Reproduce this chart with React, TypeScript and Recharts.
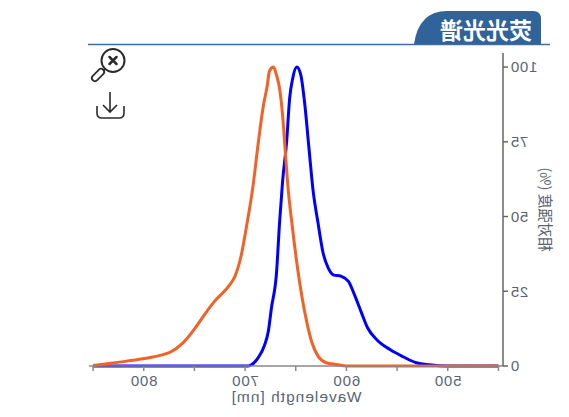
import { Line, LineChart, XAxis, YAxis } from 'recharts'

const blueWavelengths = [450, 500, 518, 531, 544, 557, 570, 579, 585, 592, 598, 605, 613, 618, 623, 628, 633, 637, 641, 645, 649, 653, 656, 659, 663, 666, 669, 674, 677, 681, 687, 693, 697, 850]
const blueValues = [0, 0, 0.4, 1.1, 3.1, 5.5, 8.8, 12.7, 17.7, 23.8, 28.3, 30, 30.5, 32.8, 37.8, 47.8, 59, 73, 87.3, 97.3, 100, 96.2, 89.6, 75, 61.7, 47.8, 31.1, 19.4, 11.7, 6.8, 2.8, 0.6, 0, 0]

const orangeWavelengths = [450, 600, 610, 620, 628, 634, 639, 644, 648, 653, 658, 661, 663, 666, 669, 672, 676, 678, 682, 687, 692, 698, 704, 710, 715, 730, 740, 748, 761, 774, 781, 801, 824, 850]
const orangeValues = [0, 0, 0.5, 1.1, 3.3, 7.8, 14.5, 23.4, 32.2, 45.5, 61.2, 75, 84, 92.9, 97.3, 100, 98.6, 94, 87, 74.6, 60.6, 47.8, 36.7, 30, 27.2, 21.7, 17.2, 13.3, 7.8, 4.6, 3.8, 2.4, 1.3, 0.2]

const xTicks = [450, 500, 550, 600, 650, 700, 750, 800, 850]
const xLabelled = [500, 600, 700, 800]
const yTicks = [0, 25, 50, 75, 100]

const blueData = blueWavelengths.map((wavelength, i) => ({ wavelength, value: blueValues[i] }))
const orangeData = orangeWavelengths.map((wavelength, i) => ({ wavelength, value: orangeValues[i] }))

const textColor = '#5c6470'
const font = '"Liberation Sans", Arial, sans-serif'

function Header() {
  return (
    <svg width={569} height={417} style={{ position: 'absolute', left: 0, top: 0 }}>
      <line x1={19} x2={481} y1={44.5} y2={44.5} stroke="#3f6f9f" strokeWidth={1.5} />
      <path d="M28 44 V19 Q28 11 36 11 H122 Q150 11 155 44 Z" fill="#2f6399" />
      <text
        x={83}
        y={39}
        textAnchor="middle"
        fontSize={23}
        fontWeight={700}
        fill="#fff"
        fontFamily='"Noto Sans CJK SC", sans-serif'
      >
        荧光光谱
      </text>
      {/* zoom reset */}
      <g fill="none" stroke="#2a2a2a" strokeWidth={2} strokeLinecap="round">
        <circle cx={456} cy={60.5} r={11.5} />
        <path d="M452.5 57 L459.5 64 M459.5 57 L452.5 64" strokeWidth={2.5} />
        <path d="M464 69 L467 72" />
        <path d="M468 72 L474 78" strokeWidth={8} />
        <path d="M468 72 L474 78" strokeWidth={4.5} stroke="#fff" />
      </g>
      {/* download */}
      <g fill="none" stroke="#2a2a2a" strokeWidth={1.6}>
        <path d="M459 92 V112 M452 105 L459 112 L466 105" />
        <path d="M445 106 V113 Q445 118 450 118 H467 Q472 118 472 113 V106" />
      </g>
    </svg>
  )
}

export default function App() {
  return (
    <div
      style={{
        position: 'absolute',
        left: 0,
        top: 0,
        width: 569,
        height: 417,
        transform: 'scaleX(-1)',
        fontFamily: font,
      }}
    >
      <LineChart width={569} height={417} margin={{ top: 53, right: 89, bottom: 0, left: 0 }}>
        <XAxis
          type="number"
          dataKey="wavelength"
          domain={[445.5, 854]}
          ticks={xTicks}
          interval={0}
          tickSize={5}
          tickMargin={4}
          tickFormatter={(v: number) => (xLabelled.includes(v) ? String(v) : '')}
          tick={{ fontSize: 15, fill: textColor, letterSpacing: 0.8 }}
          stroke="#888"
          strokeWidth={1.5}
          height={51}
          label={{
            value: 'Wavelength [nm]',
            position: 'insideBottom',
            offset: 15,
            fontSize: 15.5,
            letterSpacing: 1,
            fill: textColor,
          }}
        />
        <YAxis
          type="number"
          domain={[0, 104.7]}
          ticks={yTicks}
          interval={0}
          tickSize={5}
          tick={{ fontSize: 15, fill: textColor, letterSpacing: 0.8 }}
          stroke="#666"
          strokeWidth={1.5}
          width={66}
          label={{
            value: '相对强度 (%)',
            angle: -90,
            position: 'insideLeft',
            offset: 24,
            textAnchor: 'middle',
            fontSize: 14.5,
            fill: textColor,
            fontFamily: '"Noto Sans CJK SC", sans-serif',
          }}
        />
        <Line data={blueData} dataKey="value" stroke="#0000ff" strokeWidth={3} dot={false} type="monotone" isAnimationActive={false} />
        <Line data={orangeData} dataKey="value" stroke="#f26226" strokeWidth={3} dot={false} type="monotone" isAnimationActive={false} />
      </LineChart>
      <Header />
    </div>
  )
}
